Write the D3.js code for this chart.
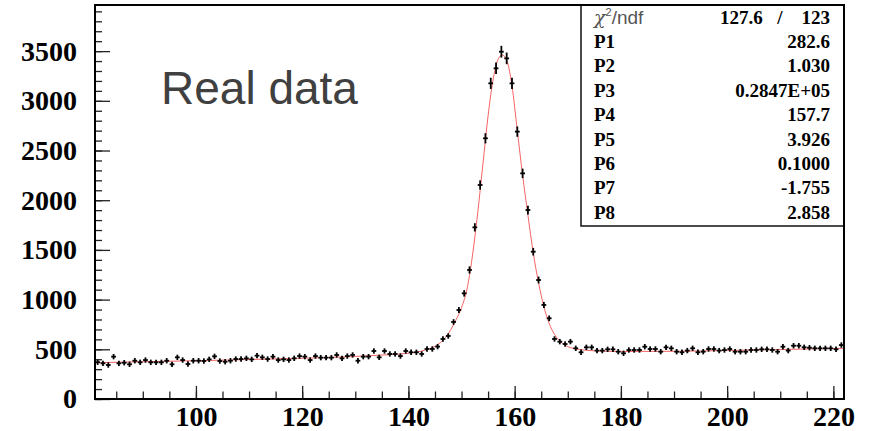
<!DOCTYPE html>
<html>
<head>
<meta charset="utf-8">
<script src="https://cdn.jsdelivr.net/npm/d3@7"></script>
<style>
  body { margin: 0; background: #fff; }
  svg text { font-family: "Liberation Serif", "Times New Roman", serif; }
  .axis text { font-size: 28px; font-weight: bold; fill: #000; }
  .axis path { stroke: none; }
  .axis line { stroke: #222; stroke-width: 1.3; }
  .stat { font-size: 19px; font-weight: bold; fill: #000; }
</style>
</head>
<body>
<div id="chart"></div>
<script>
    // histogram: bins of width 1 starting at 81
    var binStart = 81;
    var binWidth = 1;
    var counts = [
        370, 359, 342, 426, 359, 365, 349, 385, 369, 392,
        369, 369, 369, 385, 349, 419, 392, 352, 385, 385,
        382, 399, 429, 382, 375, 385, 402, 402, 409, 399,
        436, 419, 402, 426, 392, 399, 392, 409, 432, 426,
        392, 432, 416, 416, 416, 443, 409, 432, 443, 385,
        426, 426, 483, 419, 483, 453, 453, 432, 483, 470,
        470, 453, 503, 503, 527, 604, 634, 775, 895, 1063,
        1298, 1727, 2153, 2623, 3176, 3327, 3494, 3427, 3176, 2690,
        2270, 1901, 1482, 1197, 946, 812, 604, 577, 553, 577,
        510, 470, 520, 520, 487, 487, 500, 500, 476, 460,
        493, 493, 493, 526, 503, 503, 476, 520, 510, 476,
        470, 487, 510, 470, 476, 503, 503, 487, 493, 503,
        476, 476, 476, 493, 493, 500, 500, 493, 476, 526,
        487, 536, 536, 520, 516, 510, 510, 510, 510, 500,
        543
    ];

    // fit curve
    var fitX = [81, 90, 100, 110, 120, 130, 136, 140, 143, 145, 147, 149, 150, 151, 152, 153, 154, 155, 156, 157, 157.7,
        158.5, 159.5, 160.5, 161.5, 162.5, 163.5, 164.5, 165.5, 166.5, 167.5, 169, 171, 175, 180, 190, 200, 210, 222];
    var fitY = [365, 375, 385, 397, 410, 428, 445, 460, 490, 530, 620, 800, 920, 1100, 1420, 1850, 2350, 2850, 3230, 3430, 3460,
        3410, 3150, 2700, 2250, 1850, 1470, 1170, 930, 760, 650, 560, 510, 485, 478, 480, 488, 498, 510];

    var xTicksMajor = [100, 120, 140, 160, 180, 200, 220];
    var yTicksMajor = [0, 500, 1000, 1500, 2000, 2500, 3000, 3500];

    var statNames = ["P1", "P2", "P3", "P4", "P5", "P6", "P7", "P8"];
    var statValues = ["282.6", "1.030", "0.2847E+05", "157.7", "3.926", "0.1000", "-1.755", "2.858"];
    var chi2 = "127.6", ndf = "123";

(function() {
    var width = 874, height = 431;
    var mLeft = 95, mRight = 844, mTop = 5, mBottom = 399;

    var svg = d3.select("#chart").append("svg")
        .attr("width", width)
        .attr("height", height);

    var x = d3.scaleLinear().domain([81, 222]).range([mLeft, mRight]);
    var y = d3.scaleLinear().domain([0, 3964]).range([mBottom, mTop]);

    // minor ticks
    svg.append("g")
        .attr("class", "axis")
        .attr("transform", "translate(0," + mBottom + ")")
        .call(d3.axisBottom(x).tickValues(d3.range(85, 222, 5)).tickSize(-7.5).tickFormat(""));
    svg.append("g")
        .attr("class", "axis")
        .attr("transform", "translate(" + mLeft + ",0)")
        .call(d3.axisLeft(y).tickValues(d3.range(0, 3964, 100)).tickSize(-7).tickFormat(""));

    // major ticks + labels
    svg.append("g")
        .attr("class", "axis")
        .attr("transform", "translate(0," + mBottom + ")")
        .call(d3.axisBottom(x).tickValues(xTicksMajor).tickSize(-13).tickPadding(7).tickFormat(d3.format("d")));
    svg.append("g")
        .attr("class", "axis")
        .attr("transform", "translate(" + mLeft + ",0)")
        .call(d3.axisLeft(y).tickValues(yTicksMajor).tickSize(-15).tickPadding(18).tickFormat(d3.format("d")));

    // fit
    var line = d3.line()
        .x(function(d, i) { return x(fitX[i]); })
        .y(function(d) { return y(d); })
        .curve(d3.curveMonotoneX);

    svg.append("path")
        .datum(fitY)
        .attr("d", line)
        .attr("fill", "none")
        .attr("stroke", "#f03030")
        .attr("stroke-opacity", 0.75)
        .attr("stroke-width", 1);

    // data points with error bars
    var pts = svg.append("g").attr("stroke", "#000").attr("stroke-width", 1.8);
    pts.selectAll(".herr")
        .data(counts)
        .enter()
        .append("line")
        .attr("class", "herr")
        .attr("x1", function(d, i) { return x(binStart + i * binWidth + 0.05); })
        .attr("x2", function(d, i) { return x(binStart + (i + 1) * binWidth - 0.05); })
        .attr("y1", function(d) { return y(d); })
        .attr("y2", function(d) { return y(d); });
    pts.selectAll(".verr")
        .data(counts)
        .enter()
        .append("line")
        .attr("class", "verr")
        .attr("x1", function(d, i) { return x(binStart + (i + 0.5) * binWidth); })
        .attr("x2", function(d, i) { return x(binStart + (i + 0.5) * binWidth); })
        .attr("y1", function(d) { return y(d + Math.max(Math.sqrt(d), 27)); })
        .attr("y2", function(d) { return y(d - Math.max(Math.sqrt(d), 27)); });

    // stats box
    var box = svg.append("g");
    box.append("rect")
        .attr("x", 581).attr("y", mTop)
        .attr("width", mRight - 581).attr("height", 226 - mTop)
        .attr("fill", "#fff")
        .attr("stroke", "#111")
        .attr("stroke-width", 1.5);

    var chiText = box.append("text")
        .attr("x", 594).attr("y", 24)
        .style("font-family", "'Liberation Sans', Arial, sans-serif")
        .style("font-size", "19px")
        .attr("fill", "#555");
    chiText.append("tspan").style("font-style", "italic").style("font-family", "'DejaVu Serif', serif").text("χ");
    chiText.append("tspan").attr("dy", -8).style("font-size", "11px").text("2");
    chiText.append("tspan").attr("dy", 8).text("/ndf");

    box.append("text").attr("class", "stat").attr("x", 720).attr("y", 24).text(chi2);
    box.append("text").attr("class", "stat").attr("x", 780).attr("y", 24).attr("text-anchor", "middle").text("/");
    box.append("text").attr("class", "stat").attr("x", 830).attr("y", 24).attr("text-anchor", "end").text(ndf);

    box.selectAll(".pname")
        .data(statNames)
        .enter()
        .append("text")
        .attr("class", "stat")
        .attr("x", 594)
        .attr("y", function(d, i) { return 48 + i * 24.4; })
        .text(function(d) { return d; });
    box.selectAll(".pval")
        .data(statValues)
        .enter()
        .append("text")
        .attr("class", "stat")
        .attr("x", 830)
        .attr("text-anchor", "end")
        .attr("y", function(d, i) { return 48 + i * 24.4; })
        .text(function(d) { return d; });

    // frame
    svg.append("rect")
        .attr("x", mLeft).attr("y", mTop)
        .attr("width", mRight - mLeft).attr("height", mBottom - mTop)
        .attr("fill", "none")
        .attr("stroke", "#000")
        .attr("stroke-width", 2);

    svg.append("text")
        .attr("x", 161).attr("y", 104)
        .style("font-family", "'Liberation Sans', Arial, sans-serif")
        .style("font-size", "46px")
        .attr("fill", "#404040")
        .text("Real data");
})();
</script>
</body>
</html>
